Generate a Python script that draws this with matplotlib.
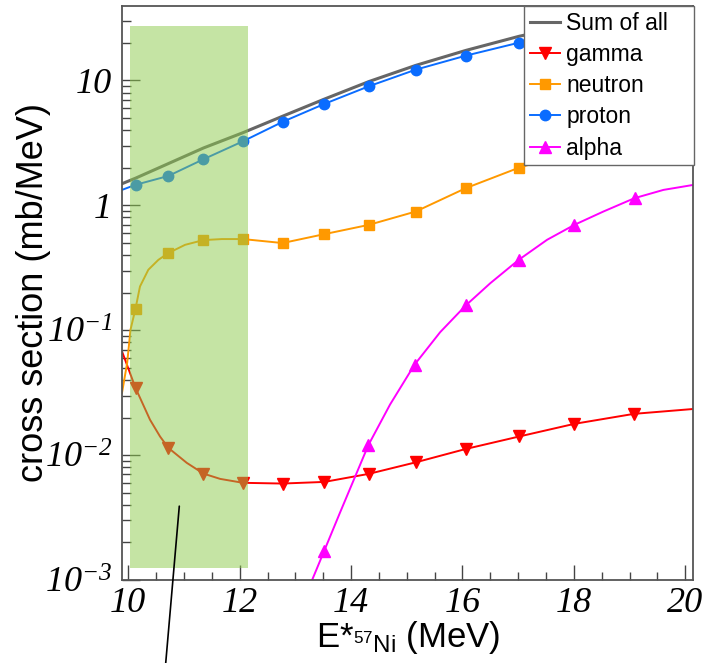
"""Partial cross sections of 57Ni* decay channels vs excitation energy."""

import numpy as np
import matplotlib

matplotlib.use("Agg")
import matplotlib.pyplot as plt
from matplotlib.ticker import LogLocator, NullFormatter

# values (x in MeV, y in mb/MeV)
SUM_X = [9.887, 10.13, 10.72, 11.35, 12.06, 12.77, 13.52, 14.32, 15.16, 16.06,
         17.02, 18.01, 19.08, 20.14]
SUM_Y = [1.49, 1.65, 2.16, 2.88, 3.82, 5.17, 7.09, 9.8, 13.2, 17.4,
         22.6, 28.0, 33.5, 38.5]

GAMMA_X = [9.887, 10.13, 10.39, 10.57, 10.72, 11.05, 11.35, 11.65, 12.06, 12.77,
           13.52, 14.32, 15.16, 16.06, 17.02, 18.01, 19.08, 20.14]
GAMMA_Y = [0.0677, 0.0345, 0.0192, 0.0141, 0.01142, 0.00867, 0.00711, 0.00645,
           0.0060, 0.00592, 0.0061, 0.00708, 0.00875, 0.0112, 0.0141, 0.0178,
           0.0214, 0.0234]
GAMMA_MK = [1, 4, 6, 8, 9, 10, 11, 12, 13, 14, 15, 16]

NEUTRON_X = [9.887, 9.98, 10.04, 10.13, 10.21, 10.36, 10.54, 10.72, 11.02, 11.35,
             11.68, 12.06, 12.77, 13.52, 14.32, 15.16, 16.06, 17.02, 18.01,
             19.08, 20.14]
NEUTRON_Y = [0.0315, 0.0547, 0.101, 0.149, 0.224, 0.305, 0.366, 0.415, 0.483,
             0.527, 0.537, 0.537, 0.499, 0.588, 0.698, 0.892, 1.373, 2.006, 2.7,
             3.4, 4.0]
NEUTRON_MK = [3, 7, 9, 11, 12, 13, 14, 15, 16, 17, 18, 19]

PROTON_X = [9.887, 10.13, 10.72, 11.35, 12.06, 12.77, 13.52, 14.32, 15.16, 16.06,
            17.02, 18.01, 19.08, 20.14]
PROTON_Y = [1.33, 1.46, 1.72, 2.34, 3.26, 4.66, 6.49, 8.99, 12.2, 15.8,
            20.1, 24.5, 29.0, 33.0]
PROTON_MK = list(range(1, 13))

ALPHA_X = [13.305, 13.52, 13.80, 14.31, 14.70, 15.14, 15.60, 16.06, 16.50, 17.01,
           17.52, 18.01, 18.53, 19.09, 19.61, 20.15]
ALPHA_Y = [0.00101, 0.00172, 0.00345, 0.0120, 0.0254, 0.0530, 0.0965, 0.158,
           0.238, 0.366, 0.530, 0.698, 0.892, 1.142, 1.330, 1.459]
ALPHA_MK = [1, 3, 5, 7, 9, 11, 13]

BAND_X = [10.03, 12.15]
BAND_Y = [1.24e-3, 27.3]
POINTER = (10.916, 0.0039)

X_TICKS = [10, 12, 14, 16, 18, 20]
Y_TICKS = [1e-3, 1e-2, 1e-1, 1, 10]
Y_LABELS = [r"$10^{-3}$", r"$10^{-2}$", r"$10^{-1}$", "1", "10"]


def main():
    plt.rcParams["mathtext.fontset"] = "custom"
    plt.rcParams["mathtext.rm"] = "Liberation Serif:italic"
    plt.rcParams["mathtext.it"] = "Liberation Serif:italic"
    plt.rcParams["mathtext.sf"] = "Liberation Sans"

    fig = plt.figure(figsize=(7.18, 6.63), dpi=100)
    ax = fig.add_axes([0.1699, 0.1252, 0.7953, 0.8658])

    ax.plot(SUM_X, SUM_Y, color="#666666", lw=2.2, label="Sum of all", zorder=2)
    ax.plot(GAMMA_X, GAMMA_Y, color="#ff0000", lw=1.4, marker="v", ms=8,
            markevery=GAMMA_MK, label="gamma", zorder=2)
    ax.plot(NEUTRON_X, NEUTRON_Y, color="#ff9900", lw=1.4, marker="s", ms=7,
            markevery=NEUTRON_MK, label="neutron", zorder=2)
    ax.plot(PROTON_X, PROTON_Y, color="#0a6cff", lw=1.4, marker="o", ms=7.5,
            markevery=PROTON_MK, label="proton", zorder=2)
    ax.plot(ALPHA_X, ALPHA_Y, color="#ff00ff", lw=1.4, marker="^", ms=8,
            markevery=ALPHA_MK, label="alpha", zorder=2)

    # shaded energy window drawn over the curves
    ax.fill_between(BAND_X, BAND_Y[0], BAND_Y[1], color="#8dcb4b", alpha=0.5,
                    lw=0, zorder=3)
    ax.annotate("", xy=POINTER, xycoords="data", xytext=(0.2308, 0.0),
                textcoords="figure fraction", annotation_clip=False,
                arrowprops=dict(arrowstyle="-", color="black", lw=1.2,
                                shrinkA=0, shrinkB=0), zorder=4)

    ax.set_yscale("log")
    ax.set_xlim(9.887, 20.14)
    ax.set_ylim(1e-3, 39.5)

    ax.set_xticks(X_TICKS, [str(t) for t in X_TICKS])
    ax.set_xticks(np.arange(10, 20.01, 0.5), minor=True)
    ax.set_yticks(Y_TICKS, Y_LABELS)
    ax.yaxis.set_minor_locator(LogLocator(base=10, subs=np.arange(2, 10)))
    ax.yaxis.set_minor_formatter(NullFormatter())

    ax.tick_params(which="both", direction="in", top=False, right=False,
                   color="#444444", width=1)
    ax.tick_params(axis="y", which="major", length=12.7, pad=7)
    ax.tick_params(axis="y", which="minor", length=6.5)
    ax.tick_params(axis="x", which="major", length=11, pad=5)
    ax.tick_params(axis="x", which="minor", length=5.5)
    for s in ax.spines.values():
        s.set_color("#555555")
        s.set_linewidth(1.3)
    for lbl in ax.get_xticklabels() + ax.get_yticklabels():
        lbl.set_fontfamily("Liberation Serif")
        lbl.set_fontstyle("italic")
        lbl.set_fontsize(26)

    ax.set_xlabel(r"E*$_{^{\mathsf{57}}\mathsf{Ni}}$ (MeV)",
                  fontfamily="Liberation Sans", fontsize=25)
    ax.set_ylabel("cross section (mb/MeV)", fontfamily="Liberation Sans",
                  fontsize=26)
    ax.xaxis.set_label_coords(0.502, -0.068)
    ax.yaxis.set_label_coords(-0.125, 0.5)

    leg = ax.legend(loc="upper left", bbox_to_anchor=(0.704, 0.0, 0.298, 1.0),
                    mode="expand", borderaxespad=0, frameon=True, fancybox=False,
                    edgecolor="#666666", framealpha=1, handlelength=1.3,
                    handletextpad=0.3, labelspacing=0.36, borderpad=0.25,
                    prop={"family": "Liberation Sans", "size": 16.5})
    leg.get_frame().set_linewidth(1.0)

    fig.savefig("out.png", dpi=100)


if __name__ == "__main__":
    main()
